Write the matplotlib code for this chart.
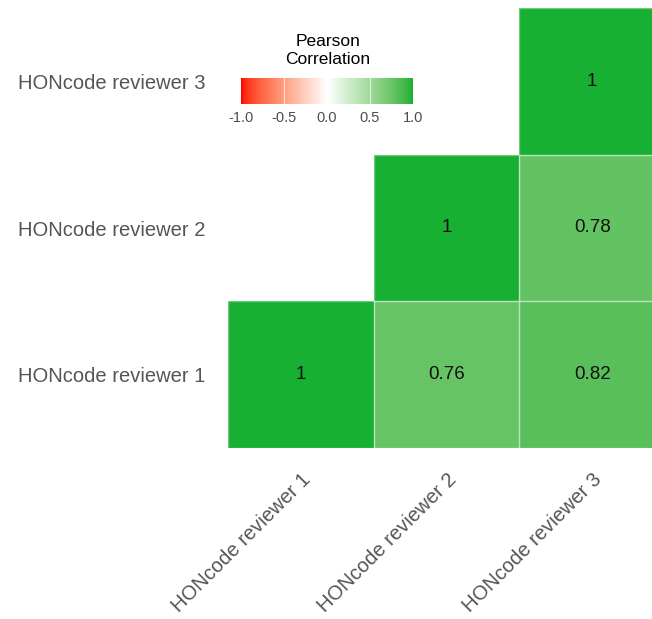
import numpy as np
import matplotlib
matplotlib.use("Agg")
import matplotlib.pyplot as plt
from matplotlib.colors import ListedColormap, to_rgb
from matplotlib.patches import Rectangle

# data
reviewers = ["HONcode reviewer 1", "HONcode reviewer 2", "HONcode reviewer 3"]
# lower triangle only (row = y reviewer, col = x reviewer), NaN = not drawn
corr = [
    [1.00, 0.76, 0.82],      # reviewer 1 row
    [np.nan, 1.00, 0.78],    # reviewer 2 row
    [np.nan, np.nan, 1.00],  # reviewer 3 row
]
cbar_ticks = [-1.0, -0.5, 0.0, 0.5, 1.0]

plt.rcParams['font.family'] = ['Liberation Sans', 'DejaVu Sans']

# gradient interpolated in Lab space (like ggplot's scale_fill_gradient2)
M = np.array([[0.4124, 0.3576, 0.1805],
              [0.2126, 0.7152, 0.0722],
              [0.0193, 0.1192, 0.9505]])
WHITE = M @ np.ones(3)

def rgb2lab(c):
    c = np.asarray(c, float)
    lin = np.where(c <= 0.04045, c / 12.92, ((c + 0.055) / 1.055) ** 2.4)
    xyz = (M @ lin) / WHITE
    f = np.where(xyz > 216/24389, np.cbrt(xyz), (24389/27 * xyz + 16) / 116)
    return np.array([116*f[1] - 16, 500*(f[0] - f[1]), 200*(f[1] - f[2])])

def lab2rgb(lab):
    L, a, b = lab
    fy = (L + 16) / 116
    fx = fy + a / 500
    fz = fy - b / 200
    f = np.array([fx, fy, fz])
    xyz = np.where(f**3 > 216/24389, f**3, (116*f - 16) / (24389/27)) * WHITE
    lin = np.linalg.solve(M, xyz)
    lin = np.clip(lin, 0, 1)
    c = np.where(lin <= 0.0031308, lin * 12.92, 1.055 * lin ** (1/2.4) - 0.055)
    return np.clip(c, 0, 1)

low, mid, high = rgb2lab(to_rgb("#ff0000")), rgb2lab((1, 1, 1)), rgb2lab(to_rgb("#18b033"))
cols = []
for t in np.linspace(-1, 1, 256):
    if t < 0:
        cols.append(lab2rgb(mid + (low - mid) * (-t)))
    else:
        cols.append(lab2rgb(mid + (high - mid) * t))
cmap = ListedColormap(cols)

fig = plt.figure(figsize=(6.52, 6.19), dpi=100)
ax = fig.add_axes([228/652, (619-448)/619, 437/652, 440/619])

m = np.ma.masked_invalid(np.array(corr))
mesh = ax.pcolormesh(np.arange(4), np.arange(4), m, cmap=cmap, vmin=-1, vmax=1,
                     linewidth=0)

for i in range(3):
    for j in range(3):
        v = corr[i][j]
        if not np.isnan(v):
            ax.add_patch(Rectangle((j, i), 1, 1, fill=False, edgecolor="white",
                                   alpha=0.35, lw=1.0))
            txt = "1" if v == 1 else "%.2f" % v
            ax.text(j + 0.5, i + 0.5, txt, ha="center", va="center",
                    fontsize=13.5, color="#111111")

ax.set_xlim(0, 3)
ax.set_ylim(0, 3)
ax.set_xticks(np.arange(3) + 0.5)
ax.set_yticks(np.arange(3) + 0.5)
ax.set_xticklabels(reviewers, rotation=45, ha="right", va="top",
                   rotation_mode="anchor", fontsize=14.5, color="#555555")
ax.set_yticklabels(reviewers, fontsize=14.5, color="#555555")
ax.tick_params(axis="y", length=0, pad=16)
ax.tick_params(axis="x", length=0, pad=16)
for s in ax.spines.values():
    s.set_visible(False)

# colorbar legend
cax = fig.add_axes([241/652, (619-104)/619, 172/652, 26/619])
cb = fig.colorbar(mesh, cax=cax, orientation="horizontal", ticks=cbar_ticks)
cb.outline.set_visible(False)
cax.tick_params(length=0, pad=5, labelsize=10.5, labelcolor="#4d4d4d")
cax.set_xticklabels(["%.1f" % t for t in cbar_ticks])
for t in cbar_ticks[1:-1]:
    cax.axvline(t, color="white", lw=0.8, alpha=0.7)
fig.text(328/652, 1 - 50/619, "Pearson\nCorrelation", ha="center", va="center",
         fontsize=12.5, color="black", linespacing=1.25)

fig.savefig("out.png", dpi=100)
